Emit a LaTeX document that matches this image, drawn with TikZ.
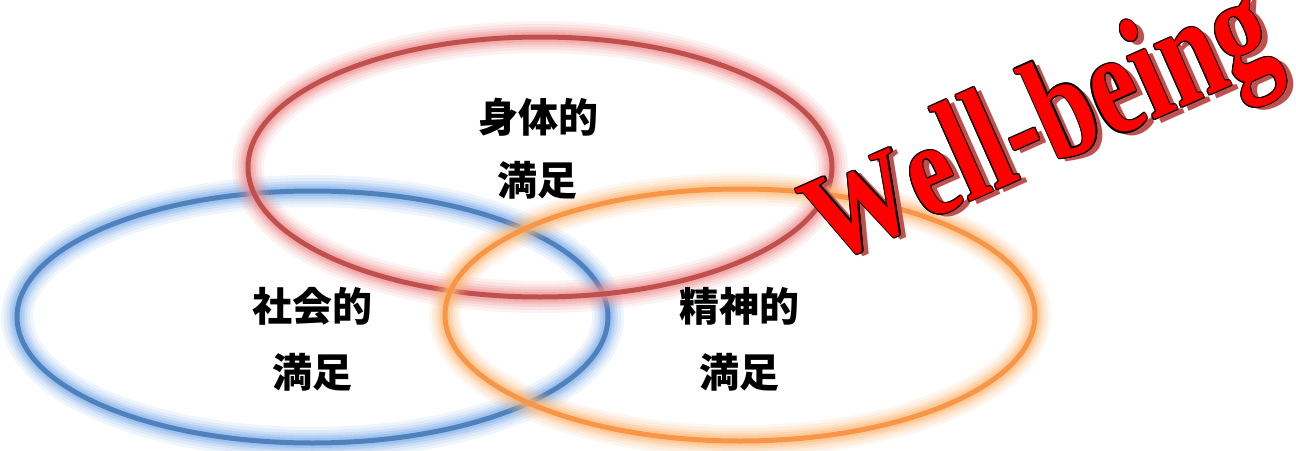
\documentclass[tikz,border=0pt]{standalone}
\usepackage{fontspec}
\usepackage{graphicx}
\newfontfamily\jpfont{Noto Sans CJK JP}
\newfontfamily\wbfont{Liberation Serif}
\definecolor{redline}{HTML}{C0504D}
\definecolor{redglow}{HTML}{EE9090}
\definecolor{blueline}{HTML}{4F81BD}
\definecolor{blueglow}{HTML}{7FAEE8}
\definecolor{orangeline}{HTML}{F79646}
\definecolor{orangeglow}{HTML}{FBB878}
\definecolor{wbred}{HTML}{FF0000}
\definecolor{wbshadow}{HTML}{C0504D}
\newcommand\wbg[2]{\scalebox{1}[#1]{%
\rlap{\kern7pt\raisebox{-6pt}{\textcolor{wbshadow}{#2}}}%
\rlap{\kern1.8pt\textcolor{black}{#2}}%
\rlap{\kern-1.8pt\textcolor{black}{#2}}%
\rlap{\raisebox{1.3pt}{\textcolor{black}{#2}}}%
\rlap{\raisebox{-1.3pt}{\textcolor{black}{#2}}}%
\rlap{\kern1.3pt\raisebox{0.9pt}{\textcolor{black}{#2}}}%
\rlap{\kern-1.3pt\raisebox{0.9pt}{\textcolor{black}{#2}}}%
\rlap{\kern1.3pt\raisebox{-0.9pt}{\textcolor{black}{#2}}}%
\rlap{\kern-1.3pt\raisebox{-0.9pt}{\textcolor{black}{#2}}}%
\textcolor{wbred}{#2}}}
\newcommand\glowell[5]{%
  \foreach \lw/\op in {32/0.12, 26/0.15, 20/0.2, 15/0.3, 10/0.4}{%
    \draw[draw=#4, line width=\lw pt, opacity=\op] (#1) ellipse [x radius=#2pt, y radius=#3pt];}
  \draw[draw=#5, line width=5pt] (#1) ellipse [x radius=#2pt, y radius=#3pt];}
\tikzset{
  jp/.style={font=\jpfont\bfseries\fontsize{40pt}{40pt}\selectfont, inner sep=0pt, text=black},
  wordart/.style={anchor=base, inner sep=0pt, outer sep=0pt, rotate=24,
    font=\wbfont\bfseries\fontsize{148pt}{148pt}\selectfont}
}
\begin{document}
\begin{tikzpicture}[x=1pt,y=-1pt]
\useasboundingbox (0,0) rectangle (1296,450);
\glowell{312.5,317}{295.5}{126}{blueglow}{blueline}
\glowell{540,167}{292}{130}{redglow}{redline}
\glowell{740,315}{295}{126}{orangeglow}{orangeline}

\node[jp] (phys1) at (538,117.5) {身体的};
\node[jp] (phys2) at (537,180.5) {満足};
\node[jp] (soc1) at (312,306) {社会的};
\node[jp] (soc2) at (312,372) {満足};
\node[jp] (men1) at (739,306) {精神的};
\node[jp] (men2) at (739,372) {満足};

\node[wordart] (wb) at (1055,164) {\scalebox{0.72}[1]{\wbg{0.85}{W}\wbg{0.92}{e}\wbg{1}{l}\wbg{1}{l}\wbg{1}{-}\wbg{1}{b}\wbg{1}{e}\wbg{1}{i}\wbg{1}{n}\wbg{1}{g}}};
\end{tikzpicture}
\end{document}
